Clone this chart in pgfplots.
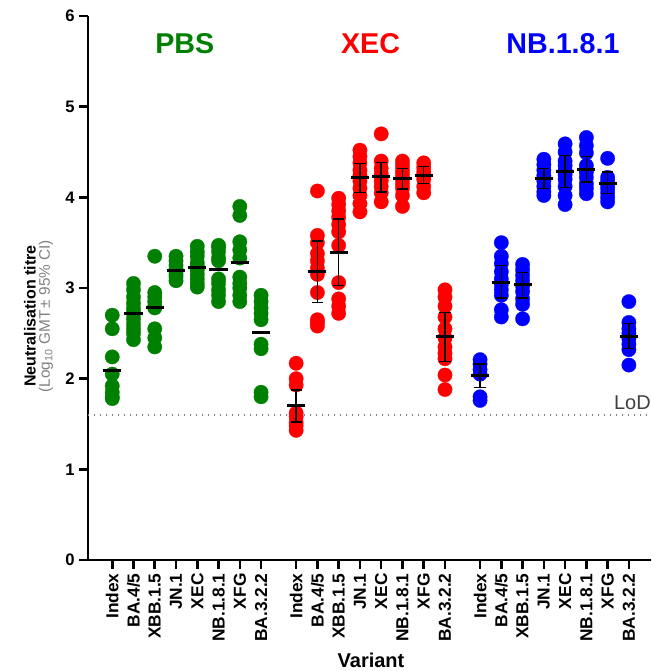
\documentclass[border=0pt]{standalone}
\usepackage{fontspec}
\setmainfont{Liberation Sans}
\usepackage{pgfplots}
\usepackage{pgfplotstable}
\pgfplotsset{compat=1.18}
\definecolor{pgreen}{RGB}{0,128,0}
\definecolor{pred}{RGB}{255,0,0}
\definecolor{pblue}{RGB}{0,0,255}
\definecolor{lodgray}{RGB}{64,64,64}

\pgfplotstableread{
x y
0 2.70
0 2.55
0 2.24
0 2.05
0 1.92
0 1.85
0 1.80
0 1.78
1 3.05
1 2.98
1 2.90
1 2.83
1 2.77
1 2.72
1 2.66
1 2.60
1 2.55
1 2.50
1 2.43
2 3.35
2 2.95
2 2.90
2 2.85
2 2.80
2 2.78
2 2.55
2 2.45
2 2.35
3 3.35
3 3.30
3 3.25
3 3.21
3 3.18
3 3.15
3 3.12
3 3.08
4 3.46
4 3.40
4 3.35
4 3.28
4 3.24
4 3.20
4 3.15
4 3.10
4 3.05
4 3.01
5 3.47
5 3.45
5 3.40
5 3.33
5 3.30
5 3.10
5 3.05
5 2.98
5 2.92
5 2.85
6 3.90
6 3.80
6 3.51
6 3.42
6 3.33
6 3.12
6 3.05
6 3.00
6 2.92
6 2.85
7 2.92
7 2.85
7 2.78
7 2.72
7 2.65
7 2.38
7 2.33
7 1.85
7 1.80
}\pbs

\pgfplotstableread{
x y
8.65 2.17
8.65 2.00
8.65 1.93
8.65 1.62
8.65 1.58
8.65 1.52
8.65 1.48
8.65 1.43
9.65 4.07
9.65 3.58
9.65 3.50
9.65 3.38
9.65 3.30
9.65 3.22
9.65 3.15
9.65 2.95
9.65 2.65
9.65 2.62
9.65 2.58
10.65 3.99
10.65 3.92
10.65 3.85
10.65 3.78
10.65 3.70
10.65 3.62
10.65 3.47
10.65 3.06
10.65 2.88
10.65 2.80
10.65 2.72
11.65 4.52
11.65 4.45
11.65 4.38
11.65 4.30
11.65 4.24
11.65 4.18
11.65 4.10
11.65 4.02
11.65 3.93
11.65 3.84
12.65 4.70
12.65 4.40
12.65 4.32
12.65 4.26
12.65 4.22
12.65 4.18
12.65 4.12
12.65 4.05
12.65 3.95
13.65 4.40
13.65 4.35
13.65 4.30
13.65 4.25
13.65 4.20
13.65 4.15
13.65 4.10
13.65 4.02
13.65 3.90
14.65 4.38
14.65 4.33
14.65 4.28
14.65 4.24
14.65 4.20
14.65 4.12
14.65 4.05
15.65 2.98
15.65 2.90
15.65 2.80
15.65 2.68
15.65 2.55
15.65 2.45
15.65 2.35
15.65 2.28
15.65 2.22
15.65 2.04
15.65 1.88
}\xec

\pgfplotstableread{
x y
17.3 2.21
17.3 2.16
17.3 2.10
17.3 2.05
17.3 1.80
17.3 1.76
18.3 3.50
18.3 3.35
18.3 3.27
18.3 3.18
18.3 3.10
18.3 3.04
18.3 2.98
18.3 2.92
18.3 2.76
18.3 2.68
19.3 3.26
19.3 3.20
19.3 3.14
19.3 3.08
19.3 3.02
19.3 2.96
19.3 2.88
19.3 2.82
19.3 2.66
20.3 4.42
20.3 4.36
20.3 4.30
20.3 4.24
20.3 4.18
20.3 4.12
20.3 4.06
20.3 4.02
21.3 4.59
21.3 4.50
21.3 4.40
21.3 4.35
21.3 4.30
21.3 4.25
21.3 4.20
21.3 4.12
21.3 4.02
21.3 3.92
22.3 4.66
22.3 4.57
22.3 4.49
22.3 4.35
22.3 4.30
22.3 4.28
22.3 4.22
22.3 4.15
22.3 4.10
22.3 4.04
23.3 4.43
23.3 4.22
23.3 4.18
23.3 4.14
23.3 4.10
23.3 4.05
23.3 4.00
23.3 3.95
24.3 2.85
24.3 2.62
24.3 2.55
24.3 2.50
24.3 2.44
24.3 2.38
24.3 2.32
24.3 2.15
}\nbone

\pgfplotstableread{
x y
0 2.09
1 2.72
2 2.79
3 3.19
4 3.23
5 3.20
6 3.28
7 2.51
}\pbsmean

\pgfplotstableread{
x y ep em
8.65 1.70 0.175 0.18
9.65 3.18 0.34 0.34
10.65 3.39 0.37 0.36
11.65 4.22 0.155 0.165
12.65 4.23 0.155 0.17
13.65 4.21 0.11 0.12
14.65 4.245 0.095 0.095
15.65 2.46 0.27 0.27
}\xecmean

\pgfplotstableread{
x y ep em
17.3 2.03 0.13 0.13
18.3 3.06 0.19 0.17
19.3 3.04 0.13 0.15
20.3 4.21 0.11 0.11
21.3 4.28 0.18 0.17
22.3 4.31 0.14 0.14
23.3 4.155 0.125 0.115
24.3 2.47 0.14 0.14
}\nbmean

\pgfplotsset{
  dots/.style={only marks, mark=*, mark size=5.4pt, color=#1, mark options={solid, draw=#1, fill=#1, line width=0.2pt}},
  meanline/.style={only marks, mark=-, mark size=6.8pt, color=black, line width=2.2pt, mark options={solid, line width=2.2pt, draw=black}},
  ci/.style={error bars/.cd, y dir=both, y explicit,
    error mark=-,
    error bar style={line width=1.1pt, black, solid},
    error mark options={rotate=90, line width=1.1pt, black, mark size=4.2pt},
    /pgfplots/.cd},
}

\begin{document}
\begin{tikzpicture}
\begin{axis}[
  set layers=standard,
  scale only axis, width=422.25pt, height=408pt,
  xmin=-1.14, xmax=25.34, ymin=0, ymax=6,
  axis lines=left,
  axis line style={-, line width=1.9pt, black},
  clip=false,
  xtick={0,1,2,3,4,5,6,7,8.65,9.65,10.65,11.65,12.65,13.65,14.65,15.65,17.3,18.3,19.3,20.3,21.3,22.3,23.3,24.3},
  xticklabels={Index,BA.4/5,XBB.1.5,JN.1,XEC,NB.1.8.1,XFG,BA.3.2.2,Index,BA.4/5,XBB.1.5,JN.1,XEC,NB.1.8.1,XFG,BA.3.2.2,Index,BA.4/5,XBB.1.5,JN.1,XEC,NB.1.8.1,XFG,BA.3.2.2},
  ytick={0,1,2,3,4,5,6},
  tick align=outside,
  major tick length=6.5pt,
  tick style={line width=1.9pt, black},
  /pgf/number format/assume math mode=true,
  xticklabel style={rotate=90, anchor=east, font=\bfseries\fontsize{13}{15}\selectfont},
  yticklabel style={font=\bfseries\fontsize{12.5}{15}\selectfont},
]
\coordinate (ll) at (rel axis cs:0,0);
\coordinate (ur) at (rel axis cs:1,1);

\addplot[dash pattern=on 1.1pt off 3.4pt, line width=1pt, gray] coordinates {(-1.14,1.6) (25.34,1.6)};

\addplot[dots=pgreen] table[x=x,y=y] {\pbs};
\addplot[dots=pred] table[x=x,y=y] {\xec};
\addplot[dots=pblue] table[x=x,y=y] {\nbone};

\addplot[meanline, on layer=axis foreground] table[x=x,y=y] {\pbsmean};
\addplot[meanline, on layer=axis foreground, ci] table[x=x,y=y,y error plus=ep,y error minus=em] {\xecmean};
\addplot[meanline, on layer=axis foreground, ci] table[x=x,y=y,y error plus=ep,y error minus=em] {\nbmean};

\node[font=\bfseries\fontsize{21.5}{24}\selectfont, text=pgreen] at (axis cs:3.41,5.69) {PBS};
\node[font=\bfseries\fontsize{21.5}{24}\selectfont, text=pred] at (axis cs:12.15,5.69) {XEC};
\node[font=\bfseries\fontsize{21.5}{24}\selectfont, text=pblue] at (axis cs:21.2,5.69) {NB.1.8.1};

\node[font=\fontsize{15}{17}\selectfont, text=lodgray, anchor=south east, inner sep=0pt] at (axis cs:25.34,1.66) {LoD};

\node[rotate=90, font=\bfseries\fontsize{12}{14}\selectfont] at ([xshift=-43.5pt]axis cs:-1.14,2.69) {Neutralisation titre};
\node[rotate=90, font=\fontsize{11.5}{14}\selectfont, text=gray] at ([xshift=-31.5pt]axis cs:-1.14,2.69) {(Log\textsubscript{10} GMT\,± 95\% CI)};

\node[font=\bfseries\fontsize{15}{17}\selectfont] at ([yshift=-75pt]axis cs:12.17,0) {Variant};
\end{axis}
\pgfresetboundingbox
\path ([shift={(-66pt,-83.25pt)}]ll) rectangle ([shift={(0pt,12pt)}]ur);
\end{tikzpicture}
\end{document}
